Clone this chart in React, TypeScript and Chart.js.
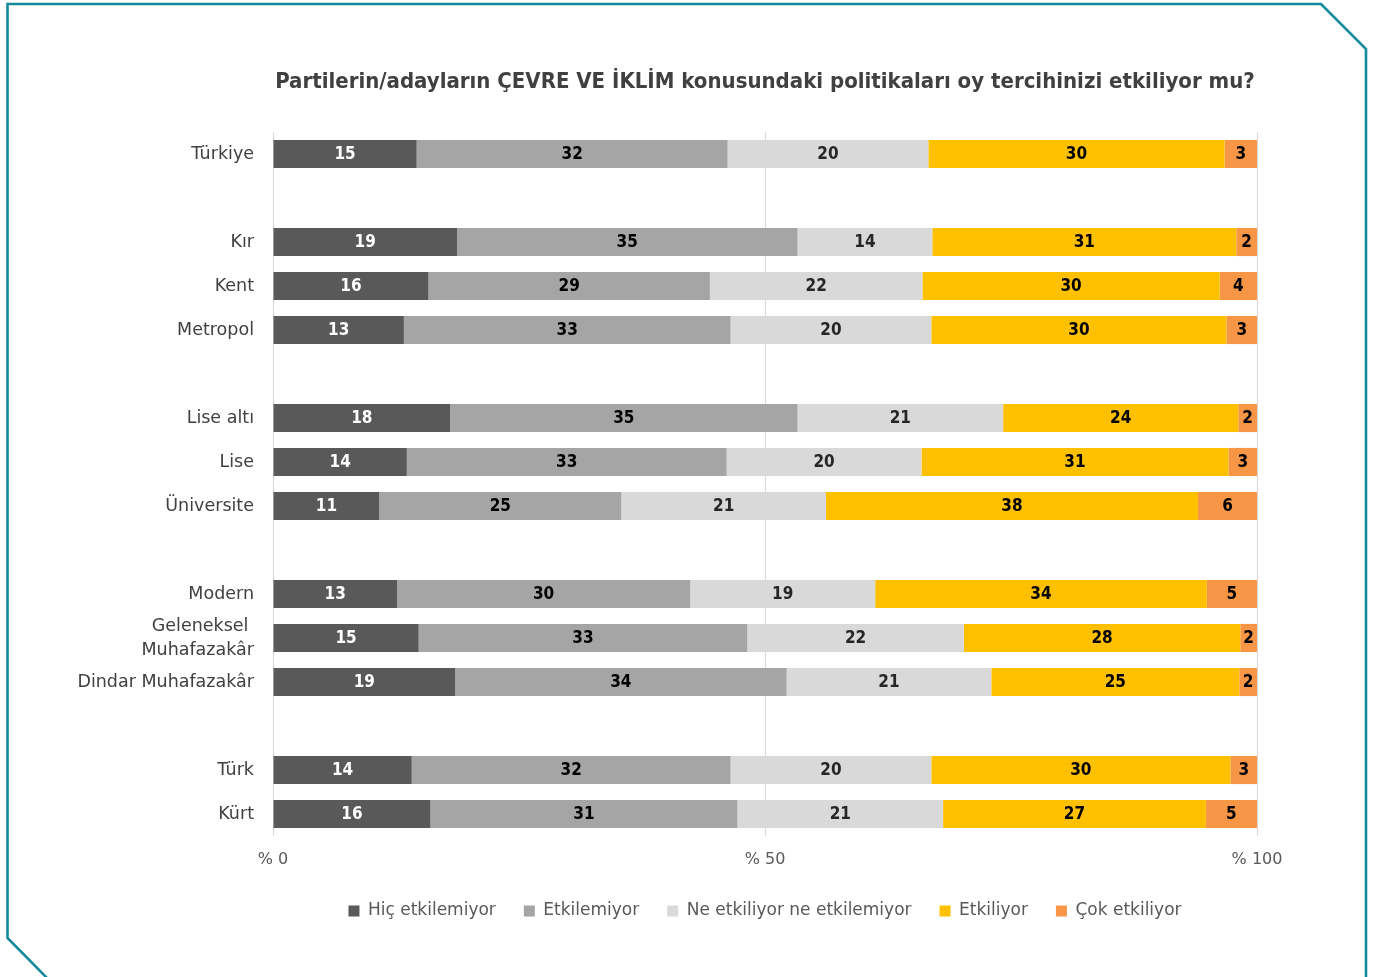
import React, { useEffect, useRef } from "react";
import { Chart, registerables } from "chart.js";

Chart.register(...registerables);

// ---- data ----
const categories: (string | string[])[] = [
  "Türkiye",
  "",
  "Kır",
  "Kent",
  "Metropol",
  "",
  "Lise altı",
  "Lise",
  "Üniversite",
  "",
  "Modern",
  ["Geleneksel ", "Muhafazakâr"],
  "Dindar Muhafazakâr",
  "",
  "Türk",
  "Kürt",
];

const seriesNames = [
  "Hiç etkilemiyor",
  "Etkilemiyor",
  "Ne etkiliyor ne etkilemiyor",
  "Etkiliyor",
  "Çok etkiliyor",
];

const hicEtkilemiyor = [14.6, null, 18.7, 15.8, 13.3, null, 18.0, 13.6, 10.8, null, 12.6, 14.8, 18.5, null, 14.1, 16.0];
const etkilemiyor = [31.6, null, 34.6, 28.6, 33.2, null, 35.3, 32.5, 24.6, null, 29.8, 33.4, 33.7, null, 32.4, 31.2];
const neEtkiliyorNeEtkilemiyor = [20.4, null, 13.7, 21.6, 20.4, null, 20.9, 19.8, 20.8, null, 18.8, 22.0, 20.8, null, 20.4, 20.9];
const etkiliyor = [30.1, null, 30.9, 30.2, 30.0, null, 23.9, 31.2, 37.8, null, 33.7, 28.1, 25.2, null, 30.4, 26.7];
const cokEtkiliyor = [3.3, null, 2.1, 3.8, 3.1, null, 1.9, 2.9, 6.0, null, 5.1, 1.7, 1.8, null, 2.7, 5.2];

const xTickValues = [0, 50, 100];
const xTickPrefix = "% ";

const chartTitle =
  "Partilerin/adayların ÇEVRE VE İKLİM konusundaki politikaları oy tercihinizi etkiliyor mu?";

// ---- styles ----
const COLORS = ["#595959", "#a5a5a5", "#d9d9d9", "#ffc000", "#f79646"];
const LABEL_COLORS = ["#ffffff", "#000000", "#262626", "#000000", "#000000"];
const CONDENSED = '"DejaVu Sans Condensed", "Liberation Sans Narrow", "DejaVu Sans", sans-serif';
const REGULAR = '"DejaVu Sans", "Liberation Sans", sans-serif';

const framePlugin = {
  id: "frame",
  afterDraw(chart: any) {
    const ctx = chart.ctx;
    ctx.save();
    ctx.strokeStyle = "#13899a";
    ctx.lineWidth = 2.6;
    ctx.lineJoin = "miter";
    ctx.beginPath();
    ctx.moveTo(48, 979);
    ctx.lineTo(7.5, 938);
    ctx.lineTo(7.5, 4);
    ctx.lineTo(1321, 4);
    ctx.lineTo(1366, 49);
    ctx.lineTo(1366, 979);
    ctx.stroke();
    ctx.restore();
  },
};

const valueLabelPlugin = {
  id: "valueLabels",
  afterDatasetsDraw(chart: any) {
    const ctx = chart.ctx;
    ctx.save();
    ctx.font = `bold 17px ${CONDENSED}`;
    ctx.textAlign = "center";
    ctx.textBaseline = "middle";
    chart.data.datasets.forEach((ds: any, i: number) => {
      const meta = chart.getDatasetMeta(i);
      meta.data.forEach((el: any, j: number) => {
        const v = ds.data[j];
        if (v === null || v === undefined) return;
        const p = el.getProps(["x", "y", "base"], true);
        ctx.fillStyle = LABEL_COLORS[i];
        ctx.fillText(String(Math.round(v)), (p.x + p.base) / 2, p.y + 1);
      });
    });
    ctx.restore();
  },
};

export default function App() {
  const canvasRef = useRef<HTMLCanvasElement | null>(null);

  useEffect(() => {
    if (!canvasRef.current) return;
    const seriesData = [
      hicEtkilemiyor,
      etkilemiyor,
      neEtkiliyorNeEtkilemiyor,
      etkiliyor,
      cokEtkiliyor,
    ];
    const chart = new Chart(canvasRef.current, {
      type: "bar",
      data: {
        labels: categories as any,
        datasets: seriesData.map((d, i) => ({
          label: seriesNames[i],
          data: d as any,
          backgroundColor: COLORS[i],
          borderWidth: 0,
          barPercentage: 0.64,
          categoryPercentage: 1,
        })),
      },
      options: {
        indexAxis: "y",
        responsive: false,
        animation: false,
        layout: { padding: { left: 0, right: 127, top: 0, bottom: 47.5 } },
        scales: {
          x: {
            stacked: true,
            min: 0,
            max: 100,
            afterFit: (s: any) => {
              s.height = 38.5;
            },
            afterBuildTicks: (s: any) => {
              s.ticks = xTickValues.map((v) => ({ value: v }));
            },
            grid: { color: "#d9d9d9", lineWidth: 1, drawTicks: false },
            border: { display: false },
            ticks: {
              padding: 14,
              color: "#595959",
              font: { family: REGULAR, size: 16 },
              callback: (v: any) => xTickPrefix + v,
            },
          },
          y: {
            stacked: true,
            afterFit: (s: any) => {
              s.width = 273;
            },
            grid: { display: false, drawTicks: false },
            border: { display: false },
            ticks: {
              autoSkip: false,
              padding: 19,
              color: "#404040",
              font: { family: REGULAR, size: 17.5, lineHeight: 1.37 },
            },
          },
        },
        plugins: {
          title: {
            display: true,
            text: chartTitle,
            fullSize: false,
            color: "#404040",
            font: { family: CONDENSED, size: 22, weight: "bold", lineHeight: 1.2 },
            padding: { top: 69.5, bottom: 36.1 },
          },
          legend: {
            display: true,
            position: "bottom",
            fullSize: false,
            labels: {
              boxWidth: 11,
              boxHeight: 11,
              padding: 28,
              color: "#595959",
              font: { family: REGULAR, size: 17 },
            },
          },
          tooltip: { enabled: false },
        },
      } as any,
      plugins: [valueLabelPlugin, framePlugin],
    });
    return () => chart.destroy();
  }, []);

  return (
    <canvas
      ref={canvasRef}
      width={1384}
      height={977}
      style={{ position: "fixed", left: 0, top: 0, display: "block" }}
    />
  );
}
